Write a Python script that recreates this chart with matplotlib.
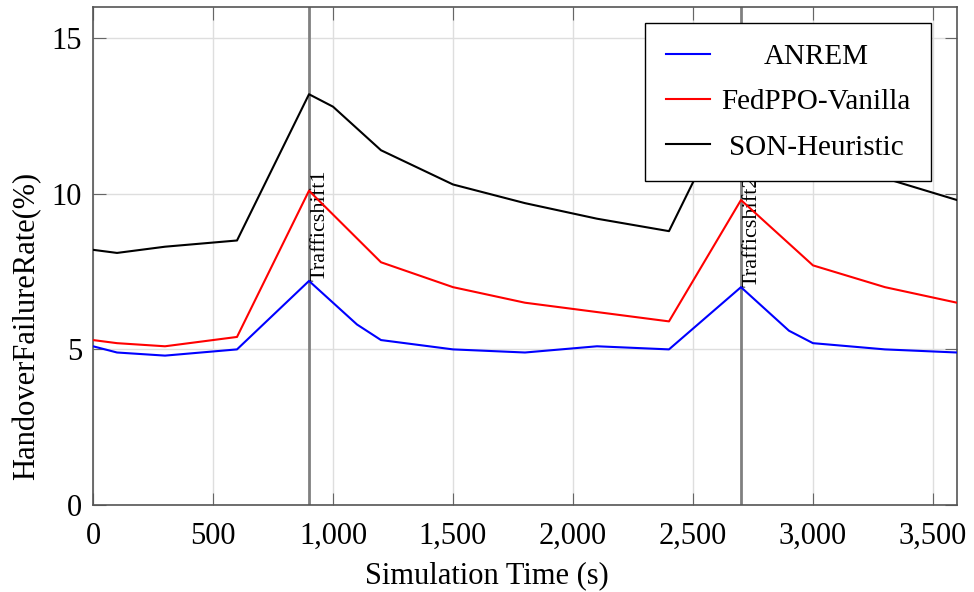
import numpy as np
import matplotlib
matplotlib.use("Agg")
import matplotlib.pyplot as plt
from matplotlib.ticker import FuncFormatter

# values
time_anrem = [0, 100, 300, 600, 900, 1100, 1200, 1500, 1800, 2100, 2400, 2700, 2900, 3000, 3300, 3600]
anrem = [5.1, 4.9, 4.8, 5.0, 7.2, 5.8, 5.3, 5.0, 4.9, 5.1, 5.0, 7.0, 5.6, 5.2, 5.0, 4.9]

time_fed = [0, 100, 300, 600, 900, 1200, 1500, 1800, 2100, 2400, 2700, 3000, 3300, 3600]
fedppo = [5.3, 5.2, 5.1, 5.4, 10.1, 7.8, 7.0, 6.5, 6.2, 5.9, 9.8, 7.7, 7.0, 6.5]

time_son = [0, 100, 300, 600, 900, 1000, 1200, 1500, 1800, 2100, 2400, 2700, 3000, 3300, 3600]
son = [8.2, 8.1, 8.3, 8.5, 13.2, 12.8, 11.4, 10.3, 9.7, 9.2, 8.8, 13.5, 11.8, 10.5, 9.8]

shift_times = [900, 2700]
shift_labels = ["Trafficshift1", "Trafficshift2"]
shift_label_y = [7.2, 7.0]

xticks = [0, 500, 1000, 1500, 2000, 2500, 3000, 3500]
yticks = [0, 5, 10, 15]

plt.rcParams['font.family'] = ['Liberation Serif', 'DejaVu Serif']

fig = plt.figure(figsize=(9.74, 5.92), dpi=100)
ax = fig.add_axes([0.0955, 0.147, 0.887, 0.841])

ax.plot(time_anrem, anrem, color="blue", lw=1.5, label="ANREM", zorder=3)
ax.plot(time_fed, fedppo, color="red", lw=1.5, label="FedPPO-Vanilla", zorder=3)
ax.plot(time_son, son, color="black", lw=1.5, label="SON-Heuristic", zorder=3)

for t, lab, ly in zip(shift_times, shift_labels, shift_label_y):
    ax.axvline(t, color="#808080", lw=2, zorder=2)
    ax.text(t + 8, ly, lab, rotation=90, ha="left", va="bottom", fontsize=16, zorder=2)

ax.set_xlim(0, 3600)
ax.set_ylim(0, 16)
ax.set_xticks(xticks)
ax.set_yticks(yticks)
ax.xaxis.set_major_formatter(FuncFormatter(lambda v, p: f"{int(v):,}"))
ax.tick_params(axis="x", labelsize=22, direction="in", top=True, length=9, pad=12, color="#666666")
ax.tick_params(axis="y", labelsize=22, direction="in", right=True, length=9, pad=8, color="#666666")
ax.grid(True, color="#dedede", lw=1)
ax.set_axisbelow(True)
for s in ax.spines.values():
    s.set_color("#555555")
    s.set_linewidth(1.2)

ax.set_xlabel("Simulation Time (s)", fontsize=22)
ax.xaxis.set_label_coords(0.456, -0.112)
ax.set_ylabel("HandoverFailureRate(%)", fontsize=22)
ax.yaxis.set_label_coords(-0.06, 0.36)

leg = ax.legend(loc="upper right", bbox_to_anchor=(0.970, 0.968), borderaxespad=0,
                fontsize=21, fancybox=False, edgecolor="black", framealpha=1,
                handlelength=1.5, handletextpad=0.4, borderpad=0.7, labelspacing=0.65)
leg.get_frame().set_linewidth(1)

# center the legend labels like the reference
fig.canvas.draw()
renderer = fig.canvas.get_renderer()
texts = leg.get_texts()
widths = [t.get_window_extent(renderer).width for t in texts]
mw = max(widths)
for t, w in zip(texts, widths):
    t.set_position(((mw - w) / 2, 0))

fig.savefig("out.png", dpi=100)
